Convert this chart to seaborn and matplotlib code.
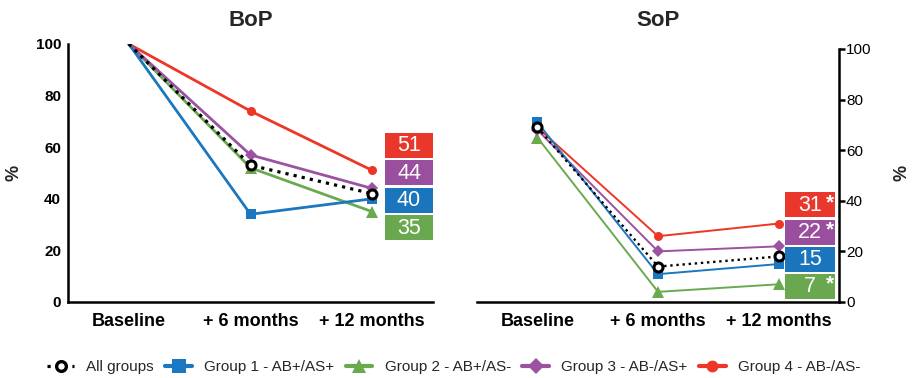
import matplotlib
matplotlib.use("Agg")
import matplotlib.pyplot as plt
from matplotlib.patches import Rectangle
from matplotlib.lines import Line2D
import seaborn as sns
import pandas as pd

sns.set_theme(style="white")
plt.rcParams["font.family"] = ["Liberation Sans", "DejaVu Sans"]

# ---- data -------------------------------------------------------------
categories = ["Baseline", "+ 6 months", "+ 12 months"]
series = ["All groups", "Group 1 - AB+/AS+", "Group 2 - AB+/AS-",
          "Group 3 - AB-/AS+", "Group 4 - AB-/AS-"]

bop_all = [100, 53, 42]
bop_g1 = [100, 34, 40]
bop_g2 = [100, 52, 35]
bop_g3 = [100, 57, 44]
bop_g4 = [100, 74, 51]

sop_all = [69, 14, 18]
sop_g1 = [71, 11, 15]
sop_g2 = [65, 4, 7]
sop_g3 = [68, 20, 22]
sop_g4 = [69, 26, 31]

# significance flags at +12 months (Group 1..4)
bop_sig = [False, False, False, False]
sop_sig = [False, True, True, True]

# ---- styles -----------------------------------------------------------
colors = ["black", "#1A77C0", "#6AAA4E", "#9B52A0", "#EE3526"]
box_colors = ["black", "#1B75BC", "#6AA84F", "#9A4E9E", "#E9382B"]
markers = ["o", "s", "^", "D", "o"]
msizes = [6.5, 7.5, 8, 6, 6.5]
zorders = [6, 5, 3, 4, 2]


def long_table(values):
    rows = []
    for name, vals in zip(series, values):
        for i, v in enumerate(vals):
            rows.append({"group": name, "pos": i, "time": categories[i], "pct": v})
    return pd.DataFrame(rows)


bop = long_table([bop_all, bop_g1, bop_g2, bop_g3, bop_g4])
sop = long_table([sop_all, sop_g1, sop_g2, sop_g3, sop_g4])

fig = plt.figure(figsize=(9.13, 3.78), dpi=100)
ax1 = fig.add_axes([0.0745, 0.2011, 0.3998, 0.6825])
ax2 = fig.add_axes([0.5225, 0.2011, 0.3965, 0.6693])


def draw(ax, df, lw, markevery):
    for k, name in enumerate(series):
        sub = df[df["group"] == name]
        if k == 0:
            kw = dict(linestyle=(0, (1, 1.6)), marker="o", markerfacecolor="white",
                      markeredgecolor="black", markeredgewidth=2.2)
        else:
            kw = dict(linestyle="-", marker=markers[k], markerfacecolor=colors[k],
                      markeredgecolor=colors[k], markeredgewidth=0)
        sns.lineplot(data=sub, x="pos", y="pct", ax=ax, color=colors[k],
                     linewidth=lw if k else lw + 0.3, markersize=msizes[k],
                     markevery=markevery, sort=False, zorder=zorders[k],
                     legend=False, **kw)


def stacked_boxes(ax, twelve, sig, x0, x1, start, step, height):
    order = sorted(range(1, 5), key=lambda g: twelve[g - 1])
    for slot, g in enumerate(order):
        y0 = start + slot * step
        ax.add_patch(Rectangle((x0, y0), x1 - x0, height, facecolor=box_colors[g],
                               edgecolor="none", clip_on=False, zorder=7))
        yc = y0 + height / 2
        ax.text((x0 + x1) / 2, yc - 0.2, f"{twelve[g - 1]}", color="white",
                fontsize=15.5, ha="center", va="center", zorder=8, clip_on=False)
        if sig[g - 1]:
            ax.text(x1 - 0.012, yc + 0.9, "*", color="white", fontsize=15,
                    fontweight="bold", ha="right", va="center", zorder=8,
                    clip_on=False)


draw(ax1, bop, 2.0, [1, 2])
draw(ax2, sop, 1.4, None)

stacked_boxes(ax1, [bop_g1[2], bop_g2[2], bop_g3[2], bop_g4[2]], bop_sig,
              2.105, 2.5, 24.0, 10.65, 9.7)
stacked_boxes(ax2, [sop_g1[2], sop_g2[2], sop_g3[2], sop_g4[2]], sop_sig,
              2.05, 2.47, 1.2, 10.75, 9.9)

for ax, title, side, pad in [(ax1, "BoP", "left", 13), (ax2, "SoP", "right", 16.5)]:
    ax.set_xlim(-0.5, 2.5)
    ax.set_ylim(0, 100)
    ax.set_xticks(range(len(categories)))
    ax.set_xticklabels(categories, fontsize=13, fontweight="bold")
    ax.set_yticks(range(0, 101, 20))
    ax.set_title(title, fontsize=16, fontweight="bold", pad=pad)
    ax.set_xlabel("")
    ax.set_ylabel("%", fontsize=13, fontweight="bold", va="center")
    for s in ax.spines.values():
        s.set_visible(False)
    ax.spines["bottom"].set_visible(True)
    ax.spines[side].set_visible(True)
    for s in ("bottom", side):
        ax.spines[s].set_linewidth(1.8)
        ax.spines[s].set_color("black")
    ax.tick_params(axis="both", direction="out", length=4, width=1.8,
                   color="black", labelcolor="black")
    ax.tick_params(axis="y", labelsize=11, pad=1)
    ax.tick_params(axis="x", pad=4)
    for lab in ax.get_yticklabels():
        lab.set_fontweight("bold")
    ax.grid(False)
    ax.set_facecolor("white")

ax1.yaxis.set_label_coords(-0.148, 0.5)
ax2.yaxis.tick_right()
ax2.yaxis.set_label_position("right")
ax2.yaxis.label.set_rotation(90)
ax2.yaxis.label.set_va("center")
ax2.yaxis.set_label_coords(1.174, 0.51)
ax2.tick_params(axis="y", left=False, right=True)

# ---- legend -----------------------------------------------------------
handles = []
for k, name in enumerate(series):
    if k == 0:
        h = Line2D([], [], color="black", linestyle=(0, (1, 1.6)), linewidth=2.3,
                   marker="o", markerfacecolor="white", markeredgecolor="black",
                   markeredgewidth=2.4, markersize=7)
    else:
        h = Line2D([], [], color=colors[k], linewidth=3.0, marker=markers[k],
                   markerfacecolor=colors[k], markeredgewidth=0,
                   markersize=msizes[k] + 2)
    handles.append(h)
fig.legend(handles, series, loc="center", bbox_to_anchor=(0.497, 0.029), ncol=5,
           frameon=False, fontsize=11, handlelength=1.75, handletextpad=0.8,
           columnspacing=0.75)

fig.savefig("out.png", dpi=100, facecolor="white")
